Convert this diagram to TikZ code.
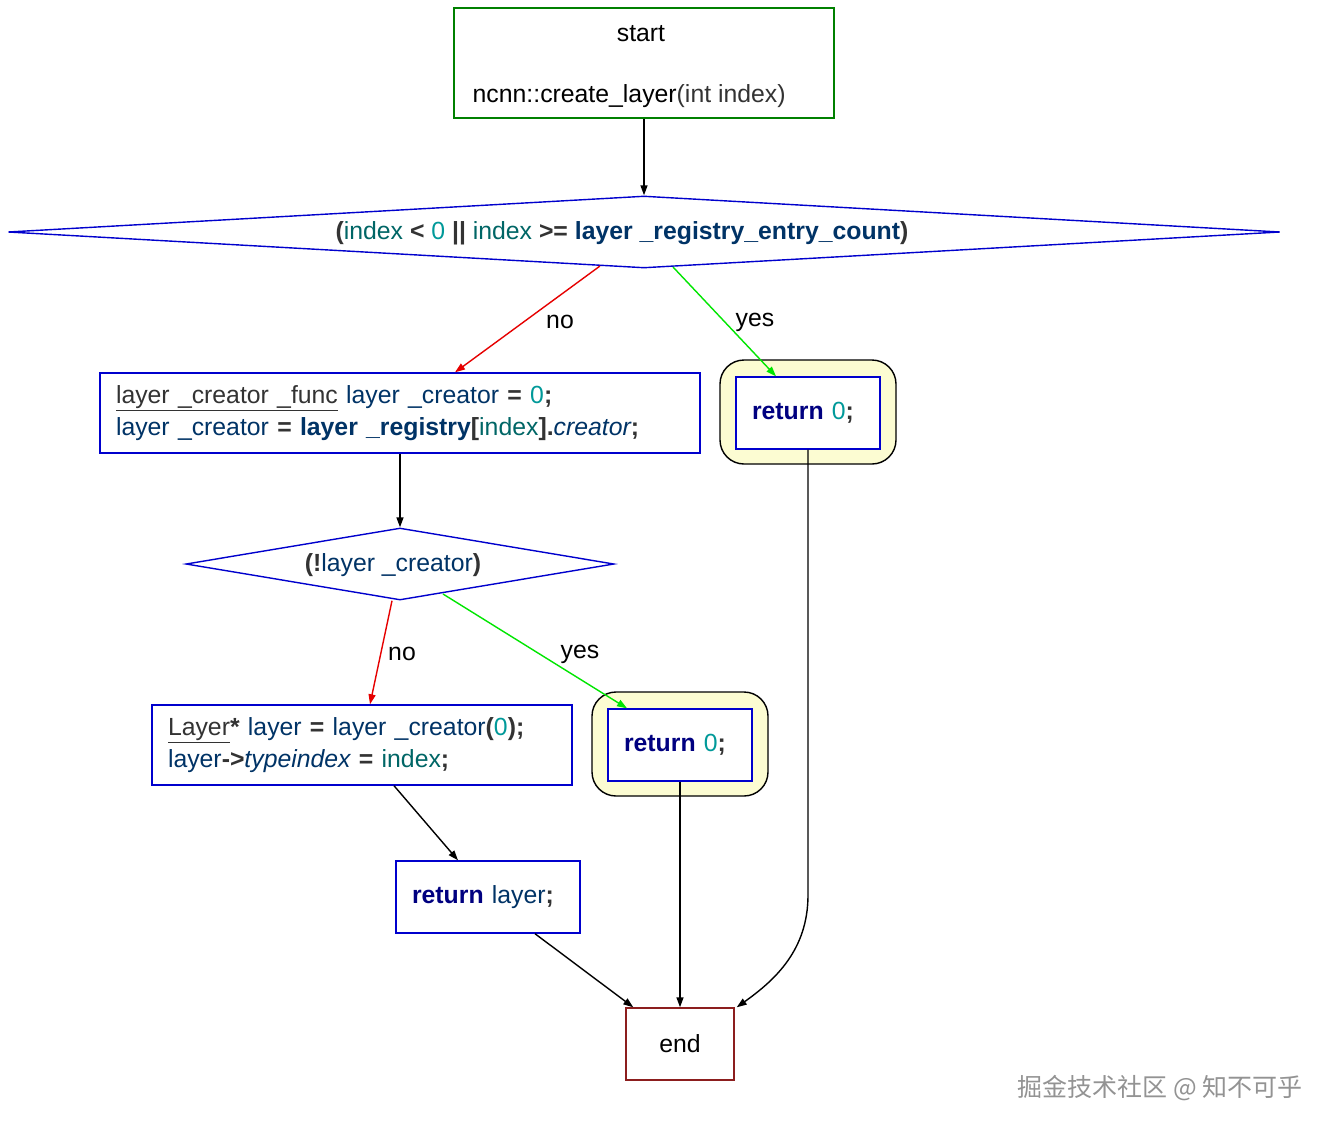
\documentclass[tikz,border=0pt]{standalone}
\usepackage{fontspec}
\setmainfont{Liberation Sans}
\newfontfamily\cjkfont{Noto Sans CJK SC}
\usetikzlibrary{shapes.geometric,arrows.meta}
\definecolor{cgreen}{RGB}{0,128,0}
\definecolor{cblue}{RGB}{0,0,205}
\definecolor{cend}{RGB}{140,30,30}
\definecolor{cid}{RGB}{0,51,102}
\definecolor{cidx}{RGB}{0,102,102}
\definecolor{cnum}{RGB}{0,153,153}
\definecolor{cop}{RGB}{51,51,51}
\definecolor{ckw}{RGB}{0,0,128}
\definecolor{cyel}{RGB}{252,252,210}
\definecolor{cred}{RGB}{230,0,0}
\definecolor{cgr}{RGB}{0,230,0}
\newcommand{\cOP}[1]{\textcolor{cop}{\bfseries #1}}
\newcommand{\cID}[1]{\textcolor{cid}{#1}}
\newcommand{\cBID}[1]{\textcolor{cid}{\bfseries #1}}
\newcommand{\cIX}[1]{\textcolor{cidx}{#1}}
\newcommand{\cNM}[1]{\textcolor{cnum}{#1}}
\newcommand{\cKW}[1]{\textcolor{ckw}{\bfseries #1}}
\newcommand{\cTY}[1]{\textcolor{cop}{\underline{#1}}}
\begin{document}
\begin{tikzpicture}[x=1pt,y=-1pt,
  font=\fontsize{24.8}{32}\selectfont,
  line width=1.4pt,
  >={Triangle[length=10pt,width=7pt]},
  codebox/.style={draw=cblue, fill=white, inner xsep=16pt, inner ysep=0pt, align=left, minimum height=80pt},
  retbox/.style={draw=cblue, fill=white, inner xsep=16pt, inner ysep=0pt, align=left, minimum height=72pt, text width=112pt},
  cluster/.style={draw=black, fill=cyel, rounded corners=24pt, minimum width=176pt, minimum height=104pt},
  decision/.style={draw=cblue, diamond, inner sep=0pt},
  lbl/.style={inner sep=1pt},
  flow/.style={draw=black, ->},
  noedge/.style={draw=cred, ->},
  yesedge/.style={draw=cgr, ->}
]
\fill[white] (0,0) rectangle (1332,1132);
\useasboundingbox (0,0) rectangle (1332,1132);

% start
\node[draw=cgreen, minimum width=380pt, minimum height=110pt, inner sep=0pt] (start) at (644,63) {};
\node[lbl] (starttxt) at (641,34) {start};
\node[lbl, anchor=west] (startfn) at (471,96) {ncnn::create\_layer\textcolor{cop}{(int index)}};

% decision 1
\node[decision, minimum width=1272pt, minimum height=72pt] (d1) at (644,232) {};
\node[lbl] (d1txt) at (622,233) {\cOP{(}\cIX{index} \cOP{<} \cNM{0} \cOP{||} \cIX{index} \cOP{>=} \cBID{layer \_registry\_entry\_count}\cOP{)}};

% box 1
\node[codebox, minimum width=600pt, text width=568pt] (b1) at (400,413)
 {\cTY{layer \_creator \_func} \cID{layer \_creator} \cOP{=} \cNM{0}\cOP{;}\\
  \cID{layer \_creator} \cOP{=} \cBID{layer \_registry}\cOP{[}\cIX{index}\cOP{]}\cOP{.}\cID{\itshape creator}\cOP{;}};

% return cluster 1
\node[cluster] (c1) at (808,412) {};
\node[retbox] (r1) at (808,413) {\cKW{return} \cNM{0}\cOP{;}};

% decision 2
\node[decision, minimum width=428pt, minimum height=72pt] (d2) at (400,564) {};
\node[lbl] (d2txt) at (393,565) {\cOP{(!}\cID{layer \_creator}\cOP{)}};

% box 2
\node[codebox, minimum width=420pt, text width=388pt] (b2) at (362,745)
 {\cTY{Layer}\cOP{*} \cID{layer} \cOP{=} \cID{layer \_creator}\cOP{(}\cNM{0}\cOP{);}\\
  \cID{layer}\cOP{->}\cID{\itshape typeindex} \cOP{=} \cIX{index}\cOP{;}};

% return cluster 2
\node[cluster] (c2) at (680,744) {};
\node[retbox] (r2) at (680,745) {\cKW{return} \cNM{0}\cOP{;}};

% return layer
\node[retbox, text width=152pt] (rl) at (488,897) {\cKW{return} \cID{layer}\cOP{;}};

% end
\node[draw=cend, minimum width=108pt, minimum height=72pt, inner sep=0pt] (end) at (680,1044) {end};

% edges
\draw[flow] (start.south) -- (d1.north);
\draw[noedge] ([shift={(-44,34)}]d1.center) -- ([xshift=55pt]b1.north);
\draw[yesedge] ([shift={(29,35)}]d1.center) -- ([xshift=-32pt]r1.north);
\node[lbl] (lno1) at (560,322) {no};
\node[lbl] (lyes1) at (755,322) {yes};

\draw[flow] (b1.south) -- (d2.north);
\draw[noedge] ([xshift=-8pt]d2.south) -- ([xshift=8pt]b2.north);
\draw[yesedge] ([shift={(43,30)}]d2.center) -- ([xshift=-53pt]r2.north);
\node[lbl] (lno2) at (402,654) {no};
\node[lbl] (lyes2) at (580,654) {yes};

\draw[flow] ([xshift=32pt]b2.south) -- ([xshift=-30pt]rl.north);
\draw[flow] ([xshift=47pt]rl.south) -- ([xshift=8pt]end.north west);
\draw[flow] (r2.south) -- (end.north);
\coordinate (bend) at (808,895);
\draw[flow] (r1.south) -- (bend) .. controls (808,950) and (775,980) .. ([xshift=2pt]end.north east);

% watermark
\node[lbl, text=gray!85, font=\cjkfont\fontsize{25}{28}\selectfont] (wm) at (1160,1088) {掘金技术社区 @ 知不可乎};
\end{tikzpicture}
\end{document}
